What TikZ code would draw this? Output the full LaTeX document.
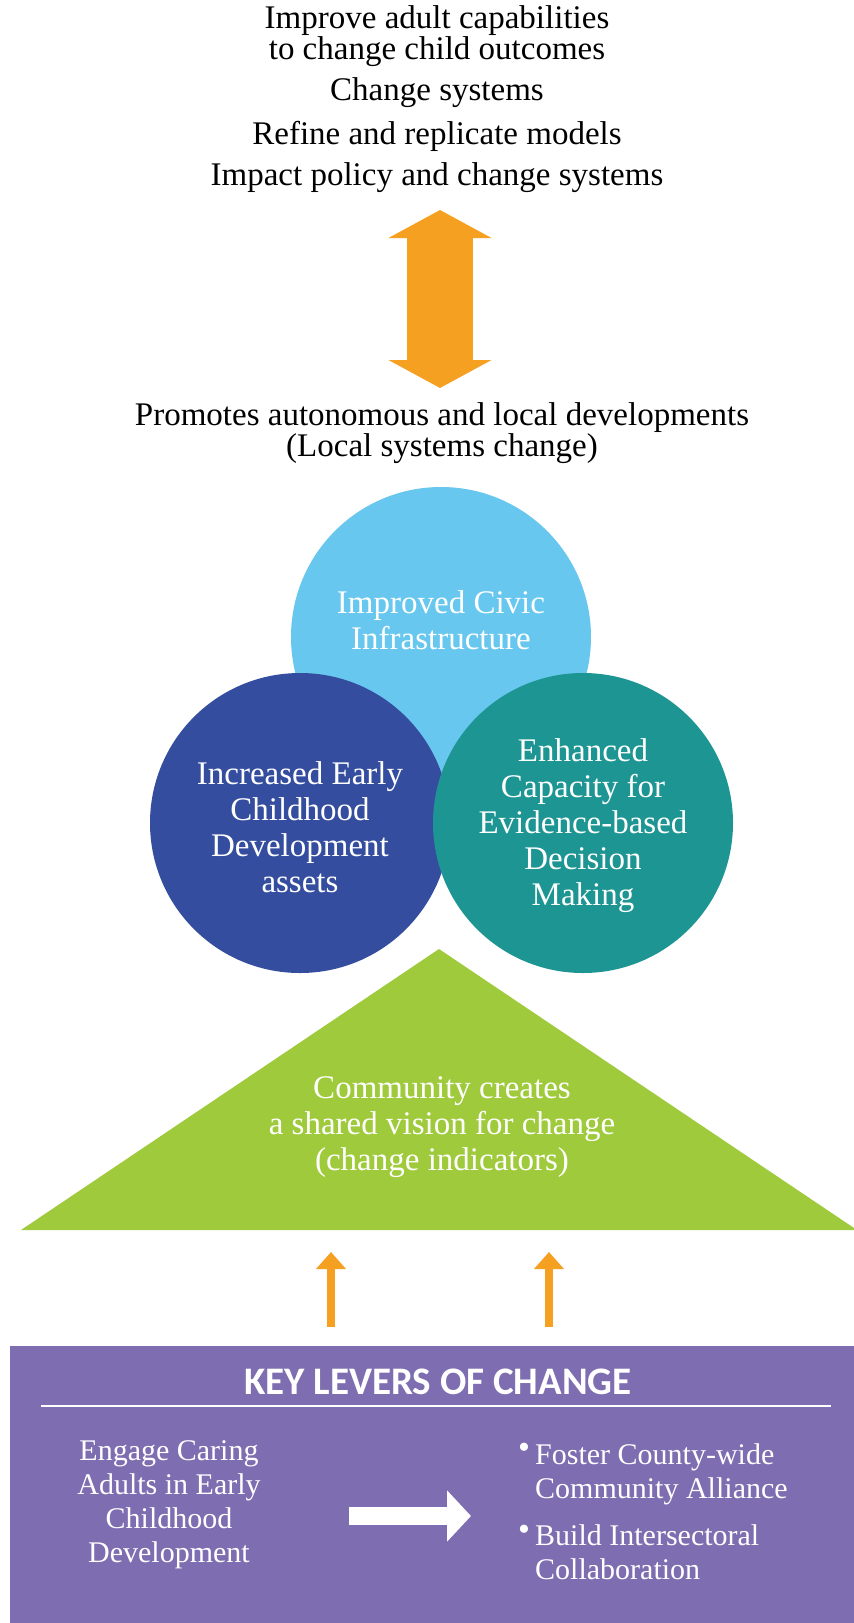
\documentclass[tikz,border=0pt]{standalone}
\usepackage{fontspec}
\setmainfont{Liberation Serif}
\setsansfont{Carlito}
\usetikzlibrary{arrows.meta}
\definecolor{pushorange}{HTML}{F5A021}
\definecolor{civicblue}{HTML}{67C7EF}
\definecolor{assetblue}{HTML}{344D9E}
\definecolor{evidenceteal}{HTML}{1D9593}
\definecolor{visiongreen}{HTML}{9FCA3C}
\definecolor{leverpurple}{HTML}{7E6DB0}
\tikzset{
  goal/.style={font=\fontsize{33}{31}\selectfont,align=center,inner sep=0pt},
  bubble/.style={circle,minimum size=300pt,inner sep=0pt,draw=none},
  inside/.style={text=white,font=\fontsize{33}{36}\selectfont,align=center,inner sep=0pt},
  lever/.style={text=white,font=\fontsize{30}{34}\selectfont,inner sep=0pt},
}
\begin{document}
\begin{tikzpicture}[x=1pt,y=-1pt]
  \useasboundingbox (0,0) rectangle (854,1623);
  % outcomes on top
  \node[goal] (improve) at (437,36) {Improve adult capabilities\\to change child outcomes};
  \node[goal] (change) at (437,93) {Change systems};
  \node[goal] (refine) at (437,136) {Refine and replicate models};
  \node[goal] (impact) at (437,178) {Impact policy and change systems};
  \node[goal] (promotes) at (442,433)
    {Promotes autonomous and local developments\\(Local systems change)};
  \coordinate (upTip) at (440,210);
  \coordinate (downTip) at (440,388);
  \draw[pushorange,line width=66pt,
    {Triangle[width=102pt,length=28pt]}-{Triangle[width=102pt,length=28pt]}] (upTip) -- (downTip);
  % three circles
  \node[bubble,fill=civicblue] (civic) at (441,637) {};
  \node[inside] (civictext) at ([yshift=17pt]civic.center) {Improved Civic\\Infrastructure};
  \node[bubble,fill=assetblue] (assets) at (300,823) {};
  \node[inside] (assetstext) at ([yshift=-4pt]assets.center)
    {Increased Early\\Childhood\\Development\\assets};
  \node[bubble,fill=evidenceteal] (evidence) at (583,823) {};
  \node[inside] (evidencetext) at ([yshift=-3pt]evidence.center)
    {Enhanced\\Capacity for\\Evidence-based\\Decision\\Making};
  % shared vision
  \fill[visiongreen] (439,949) -- (21,1230) -- (857,1230) -- cycle;
  \node[inside] (vision) at (442,1127)
    {Community creates\\a shared vision for change\\(change indicators)};
  \foreach \x/\n in {331/leftup,549/rightup}{
    \coordinate (\n foot) at (\x,1327);
    \coordinate (\n tip) at (\x,1252);
    \draw[pushorange,line width=8pt,-{Triangle[width=29pt,length=17pt]}] (\n foot) -- (\n tip);
  }
  % key levers box
  \fill[leverpurple] (10,1346) rectangle (854,1623);
  \node[text=white,font=\sffamily\bfseries\fontsize{39}{40}\selectfont,inner sep=0pt] (levers) at (438,1382)
    {KEY LEVERS OF CHANGE};
  \coordinate (ruleL) at (41,1406);
  \coordinate (ruleR) at (831,1406);
  \draw[white,line width=2pt] (ruleL) -- (ruleR);
  \node[lever,align=center] (engage) at (169,1505)
    {Engage Caring\\Adults in Early\\Childhood\\Development};
  \coordinate (pushStart) at (349,1516);
  \coordinate (pushEnd) at (471,1516);
  \draw[white,line width=18pt,-{Triangle[width=50pt,length=24pt]}] (pushStart) -- (pushEnd);
  \node[lever,anchor=west,align=left] (foster) at (535,1474) {Foster County-wide\\Community Alliance};
  \node[lever,anchor=west,align=left] (build) at (535,1552) {Build Intersectoral\\Collaboration};
  \foreach \n/\y in {foster/1451,build/1533}
    \node[lever,font=\fontsize{34}{34}\selectfont] (\n dot) at (524,\y) {•};
\end{tikzpicture}
\end{document}
